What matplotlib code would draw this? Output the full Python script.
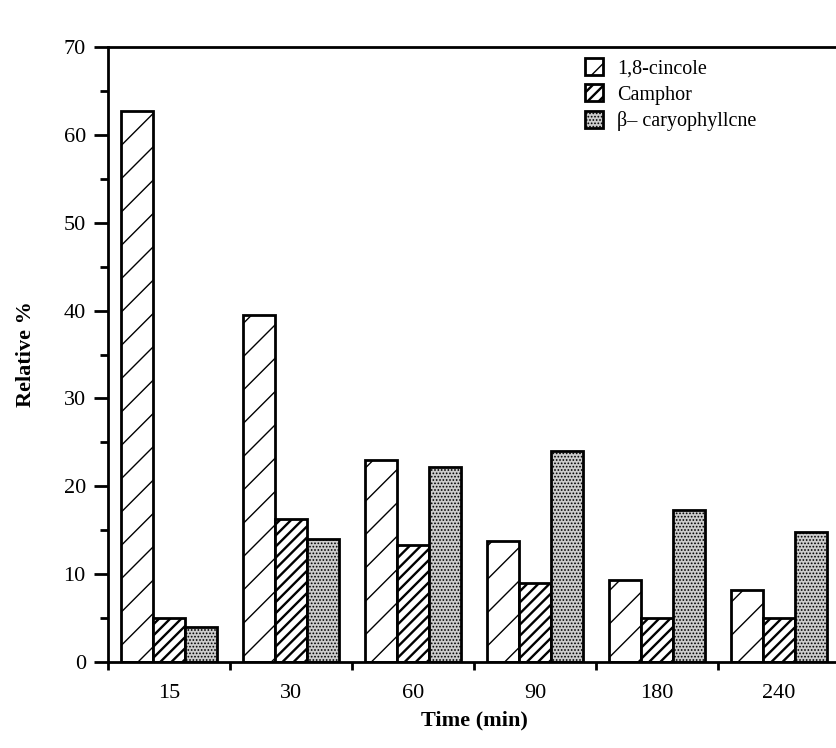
import numpy as np
import matplotlib
matplotlib.use('Agg')
import matplotlib.pyplot as plt
from matplotlib.ticker import MultipleLocator, FixedLocator

# Data
times = ['15', '30', '60', '90', '180', '240']
cineole = [62.7, 39.5, 23.0, 13.8, 9.3, 8.2]
camphor = [5.0, 16.3, 13.3, 9.0, 5.0, 5.0]
caryophyllene = [4.0, 14.0, 22.2, 24.0, 17.3, 14.8]
labels = ['1,8-cincole', 'Camphor', 'β\u2013 caryophyllcne']

plt.rcParams['font.family'] = ['Liberation Serif', 'DejaVu Serif']

fig = plt.figure(figsize=(8.37, 7.48), dpi=100)
ax = fig.add_axes([108 / 837, 1 - 662 / 748, 732 / 837, 615 / 748])

x = np.arange(len(times))
w = 0.262
hatch_lw = [1.0, 1.7, 0.8]

with plt.rc_context({'hatch.linewidth': hatch_lw[0]}):
    ax.bar(x - w, cineole, w, facecolor='white', edgecolor='black',
           linewidth=2, hatch='/', label=labels[0])
with plt.rc_context({'hatch.linewidth': hatch_lw[1]}):
    ax.bar(x, camphor, w, facecolor='white', edgecolor='black',
           linewidth=2, hatch='///', label=labels[1])
with plt.rc_context({'hatch.linewidth': hatch_lw[2]}):
    ax.bar(x + w, caryophyllene, w, facecolor='#cccccc', edgecolor='black',
           linewidth=2, hatch='.....', label=labels[2])

ax.set_xlim(-0.5, 5.5)
ax.set_ylim(0, 70)

ax.set_xticks(x)
ax.set_xticklabels(times, fontsize=16)
ax.xaxis.set_minor_locator(FixedLocator(np.arange(-0.5, 6, 1.0)))
ax.tick_params(axis='x', which='major', length=0, pad=16)
ax.tick_params(axis='x', which='minor', direction='out', length=6, width=2)

ax.yaxis.set_major_locator(MultipleLocator(10))
ax.yaxis.set_minor_locator(MultipleLocator(5))
ax.tick_params(axis='y', which='major', direction='out', length=10, width=2,
               labelsize=16, pad=6)
ax.tick_params(axis='y', which='minor', direction='out', length=6, width=2)

for s in ['left', 'bottom', 'top', 'right']:
    ax.spines[s].set_linewidth(2)

ax.set_xlabel('Time (min)', fontsize=16, fontweight='bold', labelpad=5)
ax.set_ylabel('Relative %', fontsize=16, fontweight='bold', labelpad=20)

leg = ax.legend(loc='upper left', bbox_to_anchor=(0.64, 0.995), frameon=False,
                fontsize=14.5, handlelength=0.9, handleheight=0.9, handletextpad=0.7,
                labelspacing=0.3, borderaxespad=0)
for patch, lw in zip(leg.get_patches(), hatch_lw):
    if hasattr(patch, 'set_hatch_linewidth'):
        patch.set_hatch_linewidth(lw)
    else:
        patch._hatch_linewidth = lw

fig.savefig('out.png', dpi=100)
